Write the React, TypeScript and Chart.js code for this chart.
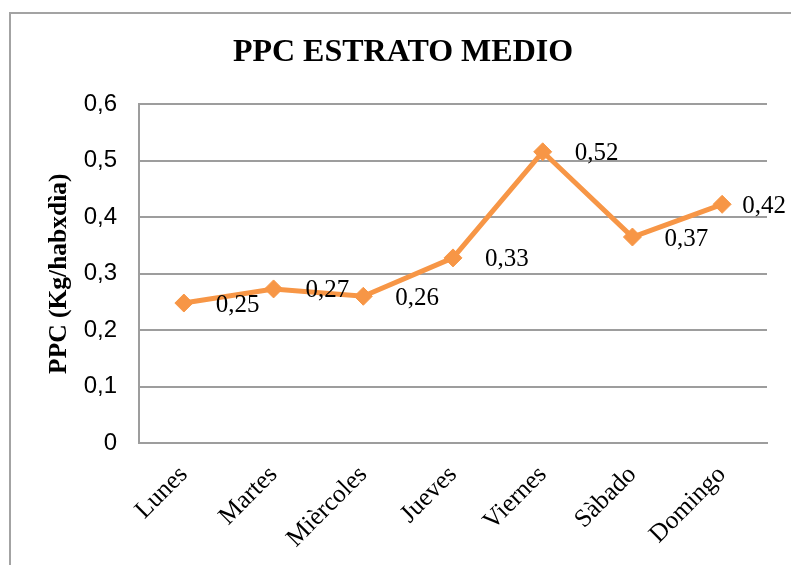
import React, { useEffect, useRef } from "react";
import { Chart, registerables } from "chart.js";

Chart.register(...registerables);

const categories = ["Lunes", "Martes", "Mièrcoles", "Jueves", "Viernes", "Sàbado", "Domingo"];
const ppcValues = [0.248, 0.273, 0.26, 0.328, 0.516, 0.365, 0.423];
const ppcLabels = ["0,25", "0,27", "0,26", "0,33", "0,52", "0,37", "0,42"];
const yTicks = [0, 0.1, 0.2, 0.3, 0.4, 0.5, 0.6];

const ORANGE = "#F79646";
const GRID = "#9d9d9d";
const SERIF = "'Liberation Serif', 'Times New Roman', serif";
const SANS = "'Liberation Sans', Arial, sans-serif";

const dataLabelPlugin = {
  id: "dataLabels",
  afterDatasetsDraw(chart: any) {
    const ctx = chart.ctx;
    const meta = chart.getDatasetMeta(0);
    ctx.save();
    ctx.font = `25px ${SERIF}`;
    ctx.fillStyle = "#000";
    ctx.textBaseline = "middle";
    ctx.textAlign = "left";
    meta.data.forEach((pt: any, i: number) => {
      const txt = ppcLabels[i];
      const w = ctx.measureText(txt).width;
      let x = pt.x + 32;
      const maxX = chart.width - 5 - w;
      if (x > maxX) x = maxX;
      ctx.fillText(txt, x, pt.y + 2);
    });
    ctx.restore();
  },
};

export default function App() {
  const ref = useRef<HTMLCanvasElement | null>(null);
  useEffect(() => {
    if (!ref.current) return;
    const chart = new Chart(ref.current, {
      type: "line",
      data: {
        labels: categories,
        datasets: [
          {
            data: ppcValues,
            borderColor: ORANGE,
            backgroundColor: ORANGE,
            borderWidth: 5,
            pointStyle: "rectRot",
            pointRadius: 9,
            pointBorderWidth: 1,
            pointBackgroundColor: ORANGE,
            pointBorderColor: ORANGE,
            tension: 0,
          },
        ],
      },
      options: {
        responsive: false,
        animation: false,
        layout: { padding: { left: 39, top: 34, right: 24, bottom: 0 } },
        plugins: {
          legend: { display: false },
          tooltip: { enabled: false },
          title: {
            display: true,
            text: "PPC ESTRATO MEDIO",
            color: "#000",
            font: { family: SERIF, size: 32, weight: "bold" },
            padding: { top: 0, bottom: 32 },
          },
        },
        scales: {
          x: {
            offset: true,
            grid: { display: false, drawTicks: false, offset: true },
            border: { display: true, color: GRID, width: 2 },
            ticks: {
              color: "#000",
              font: { family: SERIF, size: 25.5 },
              minRotation: 45,
              maxRotation: 45,
              padding: 17,
            },
            afterFit: (scale: any) => {
              scale.height = 122;
            },
          },
          y: {
            min: 0,
            max: 0.6,
            afterBuildTicks: (scale: any) => {
              scale.ticks = yTicks.map((v) => ({ value: v }));
            },
            grid: { color: GRID, lineWidth: 2, drawTicks: false },
            border: { display: true, color: GRID, width: 2 },
            ticks: {
              color: "#000",
              font: { family: SANS, size: 24 },
              padding: 22,
              callback: (v: any) => (v === 0 ? "0" : Number(v).toFixed(1).replace(".", ",")),
            },
            title: {
              display: true,
              text: "PPC (Kg/habxdìa)",
              color: "#000",
              font: { family: SERIF, size: 25.5, weight: "bold" },
              padding: { top: 5, bottom: 0 },
            },
            afterFit: (scale: any) => {
              scale.width = 100;
            },
          },
        },
      },
      plugins: [dataLabelPlugin],
    } as any);
    return () => chart.destroy();
  }, []);

  return (
    <div style={{ position: "fixed", left: 0, top: 0, width: 791, height: 565, overflow: "hidden", background: "#fff" }}>
      <div
        style={{
          position: "absolute",
          left: 9,
          top: 12,
          width: 800,
          height: 600,
          border: "2px solid #a3a3a3",
          boxSizing: "border-box",
        }}
      />
      <canvas ref={ref} width={791} height={565} style={{ position: "absolute", left: 0, top: 0 }} />
    </div>
  );
}
